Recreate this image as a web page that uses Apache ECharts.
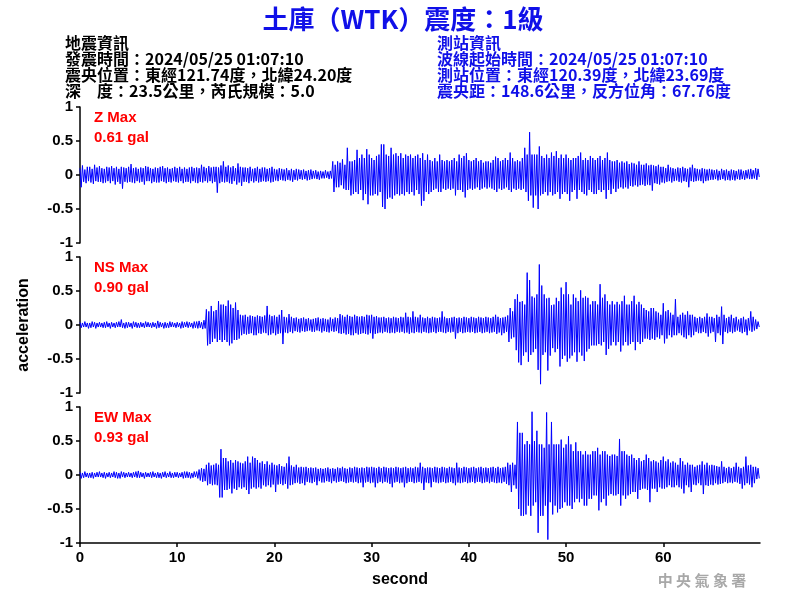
<!DOCTYPE html>
<html><head><meta charset="utf-8">
<script src="https://cdn.jsdelivr.net/npm/echarts@6/dist/echarts.min.js"></script>
<style>html,body{margin:0;padding:0;background:#fff}#c{width:800px;height:600px}</style>
</head><body><div id="c"></div>
<script>
// ---- data: amplitudes in 0.01 gal, per 0.25 s bin (bin maximum and bin minimum) ----
const binStep = 0.25;
const xTicks = [0, 10, 20, 30, 40, 50, 60];
const yTicks = [-1, -0.5, 0, 0.5, 1];
const components = ['Z', 'NS', 'EW'];
const peakGal = ['0.61', '0.90', '0.93'];

const zMax = [
 10,14,8,12, 12,9,15,11, 13,10,9,12, 11,13,10,12, 9,12,11,10,
 12,16,10,11, 9,11,10,13, 12,10,9,11, 10,12,13,10, 11,9,10,12,
 10,12,9,11, 9,11,12,10, 11,10,15,12, 10,13,11,12, 12,11,14,20,
 12,14,11,13, 10,17,12,11, 11,10,12,9, 10,12,9,11, 11,9,10,12,
 9,8,10,9, 8,10,7,9, 7,9,8,7, 8,6,7,8, 6,7,5,6,
 5,7,5,6, 20,15,20,18, 23,15,40,20, 20,22,37,25, 30,25,38,30,
 25,22,28,30, 45,45,30,28, 40,30,32,28, 32,25,30,28, 30,25,28,30,
 25,32,22,30, 22,20,25,20, 30,22,20,22, 20,22,25,20, 30,25,28,32,
 22,20,22,25, 20,22,18,20, 20,18,22,27, 25,20,22,25, 22,33,25,20,
 22,20,25,40, 30,63,30,30, 30,42,28,25, 30,25,33,28, 35,25,30,25,
 30,25,22,25, 25,28,33,22, 25,22,28,25, 22,25,28,22, 25,33,22,20,
 20,22,18,20, 18,20,16,18, 17,15,20,15, 15,17,14,15, 14,13,15,12,
 12,10,15,11, 10,9,11,10, 12,10,9,11, 15,10,9,8, 10,9,8,9,
 8,7,8,6, 9,7,8,6, 8,7,6,8, 8,6,7,8, 9,7,10,9];
const zMin = [
 -18,-10,-12,-9, -11,-13,-9,-10, -10,-12,-11,-9, -12,-9,-14,-10, -13,-20,-10,-11,
 -10,-11,-12,-9, -11,-10,-14,-9, -9,-12,-10,-11, -11,-9,-10,-12, -10,-11,-9,-10,
 -11,-9,-12,-10, -10,-12,-9,-11, -12,-10,-11,-9, -11,-9,-12,-10, -26,-12,-10,-11,
 -10,-12,-13,-9, -14,-11,-16,-10, -10,-12,-9,-11, -9,-11,-10,-9, -10,-9,-11,-10,
 -8,-9,-7,-8, -9,-7,-8,-10, -7,-8,-6,-7, -6,-8,-7,-6, -5,-6,-7,-5,
 -5,-4,-6,-5, -25,-18,-18,-15, -20,-22,-22,-30, -28,-25,-28,-22, -37,-28,-43,-30,
 -30,-28,-30,-25, -47,-50,-35,-33, -35,-30,-28,-30, -28,-30,-25,-28, -25,-30,-22,-28,
 -45,-38,-25,-28, -25,-22,-20,-25, -25,-20,-22,-20, -22,-20,-30,-22, -22,-25,-33,-22,
 -20,-22,-20,-18, -22,-20,-18,-20, -18,-20,-22,-25, -20,-22,-20,-18, -22,-25,-20,-22,
 -20,-22,-20,-25, -38,-30,-48,-30, -50,-30,-28,-25, -30,-25,-30,-28, -25,-35,-28,-25,
 -28,-38,-25,-22, -35,-22,-25,-28, -30,-22,-25,-28, -28,-22,-25,-22, -35,-22,-28,-20,
 -25,-20,-18,-20, -18,-20,-16,-17, -15,-17,-15,-14, -16,-14,-15,-23, -12,-13,-14,-11,
 -12,-10,-9,-11, -9,-8,-10,-11, -9,-10,-18,-9, -10,-9,-8,-9, -12,-9,-8,-7,
 -7,-6,-8,-7, -6,-8,-7,-8, -7,-8,-6,-7, -6,-7,-5,-6, -6,-5,-7,-3];

const nsMax = [
 4,3,5,3, 3,5,4,3, 4,3,4,5, 3,4,3,4, 5,8,3,4,
 4,3,5,4, 3,4,3,5, 4,3,4,3, 6,4,3,4, 3,5,4,3,
 4,3,5,4, 5,4,3,5, 5,6,4,7, 23,20,28,20, 22,35,30,30,
 28,36,30,25, 33,22,15,14, 15,12,14,13, 12,14,13,12, 14,28,15,13,
 14,12,15,22, 12,11,16,12, 10,11,9,10, 11,9,10,8, 9,10,11,9,
 10,9,8,11, 9,11,10,16, 14,12,15,13, 12,15,13,12, 13,12,15,14,
 15,12,13,11, 11,12,10,11, 10,12,11,10, 12,11,18,12, 11,20,12,11,
 15,11,10,12, 10,12,11,10, 11,20,12,10, 10,11,12,10, 11,10,12,11,
 10,12,11,10, 12,11,10,12, 11,10,12,15, 12,10,11,12, 14,25,20,38,
 45,34,35,30, 77,66,42,40, 45,89,58,45, 39,40,29,30, 40,35,55,45,
 63,45,30,45, 40,35,51,40, 42,40,30,35, 35,30,60,40, 45,35,30,35,
 30,34,30,35, 43,30,30,35, 43,30,34,30, 25,22,20,25, 25,20,18,15,
 32,20,22,18, 15,38,12,15, 18,15,20,15, 15,12,10,12, 10,12,17,12,
 12,10,15,12, 27,15,10,12, 15,10,12,8, 10,12,8,10, 20,12,8,5];
const nsMin = [
 -4,-3,-3,-5, -4,-3,-5,-3, -3,-4,-4,-3, -5,-3,-4,-3, -3,-4,-5,-4,
 -3,-5,-3,-4, -4,-3,-4,-3, -3,-4,-3,-5, -4,-3,-5,-4, -4,-3,-3,-4,
 -3,-5,-4,-3, -4,-3,-5,-4, -5,-4,-6,-5, -30,-28,-25,-20, -25,-22,-25,-22,
 -25,-30,-27,-22, -22,-20,-15,-13, -14,-13,-12,-15, -15,-12,-13,-11, -12,-15,-14,-12,
 -15,-13,-12,-28, -11,-12,-10,-12, -9,-10,-11,-9, -10,-9,-8,-10, -10,-8,-9,-11,
 -9,-10,-11,-9, -10,-9,-12,-13, -12,-14,-13,-15, -15,-12,-14,-13, -12,-13,-14,-12,
 -20,-13,-12,-11, -12,-10,-11,-12, -11,-12,-10,-11, -10,-12,-11,-13, -11,-12,-10,-11,
 -12,-10,-11,-12, -11,-10,-12,-10, -10,-11,-12,-10, -11,-10,-20,-12, -10,-12,-11,-10,
 -11,-10,-12,-11, -10,-12,-11,-10, -12,-11,-10,-13, -11,-15,-12,-10, -25,-20,-18,-37,
 -55,-59,-45,-40, -54,-44,-40,-35, -66,-87,-44,-40, -67,-45,-34,-40, -35,-61,-50,-45,
 -54,-49,-45,-40, -54,-40,-45,-53, -39,-35,-30,-30, -30,-28,-30,-25, -44,-35,-30,-25,
 -30,-25,-39,-30, -25,-30,-28,-25, -37,-25,-28,-25, -20,-20,-22,-20, -22,-18,-20,-15,
 -27,-20,-15,-18, -15,-15,-12,-15, -18,-20,-15,-18, -15,-10,-12,-12, -10,-12,-17,-12,
 -10,-25,-12,-15, -28,-10,-12,-10, -12,-10,-8,-10, -12,-10,-15,-8, -10,-8,-6,-3];

const ewMax = [
 4,3,5,3, 3,4,3,4, 5,3,4,3, 4,3,5,4, 3,5,4,3,
 4,3,4,5, 6,4,3,4, 3,4,5,3, 4,3,4,5, 3,5,3,4,
 4,3,4,5, 5,4,3,5, 5,8,10,9, 15,18,14,15, 17,15,38,25,
 25,20,22,18, 22,20,18,17, 20,27,18,27, 25,22,18,20, 16,20,15,18,
 15,14,16,13, 12,17,27,14, 12,15,11,12, 11,12,10,11, 10,11,9,10,
 9,10,11,9, 10,9,11,10, 12,10,9,11, 10,12,11,10, 11,10,12,11,
 12,11,10,12, 10,12,11,10, 11,10,12,11, 10,11,12,10, 11,10,12,11,
 18,12,10,11, 11,10,12,11, 10,12,11,10, 12,11,10,18, 11,10,12,11,
 10,11,12,10, 11,12,10,11, 10,11,12,10, 12,10,11,12, 18,15,18,15,
 78,62,62,45, 50,45,93,50, 65,45,45,40, 92,45,78,45, 45,45,52,40,
 45,57,45,35, 48,35,35,30, 35,30,30,35, 35,40,30,35, 35,30,28,30,
 30,28,53,35, 35,30,28,30, 25,22,25,20, 22,30,25,20, 22,20,18,22,
 27,20,23,18, 20,18,15,25, 20,15,18,15, 15,12,14,15, 20,15,18,14,
 15,14,13,12, 20,12,10,12, 10,12,18,12, 10,12,27,14, 15,12,12,10];
const ewMin = [
 -5,-4,-3,-4, -4,-5,-3,-3, -3,-4,-5,-3, -4,-3,-4,-5, -5,-3,-4,-3,
 -3,-4,-3,-4, -4,-3,-5,-3, -3,-4,-3,-4, -4,-5,-3,-4, -3,-4,-4,-3,
 -4,-3,-5,-4, -4,-5,-4,-3, -5,-8,-10,-9, -15,-13,-15,-14, -15,-33,-33,-22,
 -22,-20,-27,-20, -22,-18,-20,-18, -22,-28,-20,-18, -20,-18,-20,-15, -17,-15,-18,-14,
 -25,-14,-13,-15, -13,-20,-15,-14, -12,-11,-13,-12, -15,-10,-11,-12, -10,-15,-9,-11,
 -11,-9,-10,-12, -9,-11,-10,-9, -10,-12,-11,-10, -11,-10,-12,-11, -18,-11,-10,-12,
 -11,-18,-12,-10, -12,-10,-11,-13, -18,-11,-10,-12, -11,-18,-12,-10, -10,-12,-11,-10,
 -12,-22,-11,-12, -18,-10,-11,-12, -11,-10,-12,-11, -10,-12,-15,-11, -12,-11,-10,-12,
 -11,-10,-12,-10, -10,-12,-11,-10, -12,-10,-11,-12, -11,-12,-10,-13, -15,-25,-15,-20,
 -50,-60,-60,-58, -45,-60,-45,-40, -85,-60,-60,-45, -95,-40,-58,-45, -55,-50,-48,-40,
 -45,-45,-50,-40, -35,-40,-35,-45, -45,-35,-35,-30, -30,-52,-40,-35, -45,-30,-28,-30,
 -30,-28,-45,-30, -35,-30,-28,-25, -25,-35,-22,-20, -20,-22,-40,-20, -20,-25,-18,-20,
 -20,-18,-15,-18, -18,-15,-18,-20, -27,-15,-18,-25, -14,-15,-12,-15, -28,-15,-16,-14,
 -15,-12,-14,-13, -12,-10,-12,-11, -12,-10,-11,-13, -20,-15,-12,-14, -18,-12,-6,-5];

// ---- build ----
function trace(maxArr, minArr) {
  const d = [];
  for (let i = 0; i < maxArr.length; i++) {
    d.push([i * binStep, maxArr[i] / 100]);
    d.push([i * binStep + binStep / 2, minArr[i] / 100]);
  }
  return d;
}
const traces = [trace(zMax, zMin), trace(nsMax, nsMin), trace(ewMax, ewMin)];

const F = "'Liberation Sans', Arial, 'Noto Sans CJK TC', sans-serif";
const tops = [107, 257, 407];
const H = 136;
const xMax = 69.95;

const grids = tops.map(t => ({ left: 80, top: t, width: 680, height: H }));
const xAxes = tops.map((t, i) => ({
  type: 'value', gridIndex: i, min: 0, max: xMax, interval: 10,
  show: i === 2,
  axisLine: { show: i === 2, onZero: false, lineStyle: { color: '#000', width: 1.5 } },
  axisTick: { show: i === 2, length: 4, customValues: xTicks, lineStyle: { color: '#000', width: 1.5 } },
  axisLabel: { show: i === 2, color: '#000', fontFamily: F, fontWeight: 'bold', fontSize: 15, margin: 7,
    customValues: xTicks, formatter: v => String(v) },
  splitLine: { show: false }
}));
const yAxes = tops.map((t, i) => ({
  type: 'value', gridIndex: i, min: -1, max: 1, interval: 0.5,
  axisLine: { show: true, onZero: false, lineStyle: { color: '#000', width: 1.5 } },
  axisTick: { show: true, length: 4, customValues: yTicks, lineStyle: { color: '#000', width: 1.5 } },
  axisLabel: { color: '#000', fontFamily: F, fontWeight: 'bold', fontSize: 15, margin: 7,
    customValues: yTicks, formatter: v => String(v) },
  splitLine: { show: false },
  name: i === 1 ? 'acceleration' : '', nameLocation: 'middle', nameRotate: 90, nameGap: 48,
  nameTextStyle: { color: '#000', fontFamily: F, fontWeight: 'bold', fontSize: 16 }
}));
const series = traces.map((d, i) => ({
  type: 'line', xAxisIndex: i, yAxisIndex: i, data: d, showSymbol: false, symbol: 'none',
  lineStyle: { color: '#0000ff', width: 1 }, animation: false, silent: true
}));

const cjk = "'Noto Sans CJK TC', 'Liberation Sans', sans-serif";
function txt(x, y, s, color, size, weight, align, family) {
  return { type: 'text', x: x, y: y, silent: true,
    style: { text: s, fill: color, font: (weight || 'normal') + ' ' + size + 'px ' + (family || cjk),
      textAlign: align || 'left', align: align || 'left', textVerticalAlign: 'middle', verticalAlign: 'middle' } };
}
const infoLeft = ['地震資訊', '發震時間：2024/05/25 01:07:10', '震央位置：東經121.74度，北緯24.20度', '深　度：23.5公里，芮氏規模：5.0'];
const infoRight = ['測站資訊', '波線起始時間：2024/05/25 01:07:10', '測站位置：東經120.39度，北緯23.69度', '震央距：148.6公里，反方位角：67.76度'];
const graphics = [txt(403, 19, '土庫（WTK）震度：1級', '#1010e8', 26, 'bold', 'center')];
infoLeft.forEach((s, i) => graphics.push(txt(65, 43 + i * 16, s, '#000', 16, 'bold')));
infoRight.forEach((s, i) => graphics.push(txt(437, 43 + i * 16, s, '#1010e8', 16, 'bold')));
components.forEach((c, i) => {
  graphics.push(txt(94, tops[i] + 11, c + ' Max', '#ff0000', 15, 'bold', 'left', F));
  graphics.push(txt(94, tops[i] + 31, peakGal[i] + ' gal', '#ff0000', 15, 'bold', 'left', F));
});
graphics.push(txt(400, 580, 'second', '#000', 16, 'bold', 'center', F));
graphics.push(txt(702, 580, '中 央 氣 象 署', '#a8a8a8', 15, 'bold', 'center'));

const chart = echarts.init(document.getElementById('c'), null, { renderer: 'canvas' });
chart.setOption({
  backgroundColor: '#fff', animation: false,
  grid: grids, xAxis: xAxes, yAxis: yAxes, series: series, graphic: graphics
});
</script></body></html>
